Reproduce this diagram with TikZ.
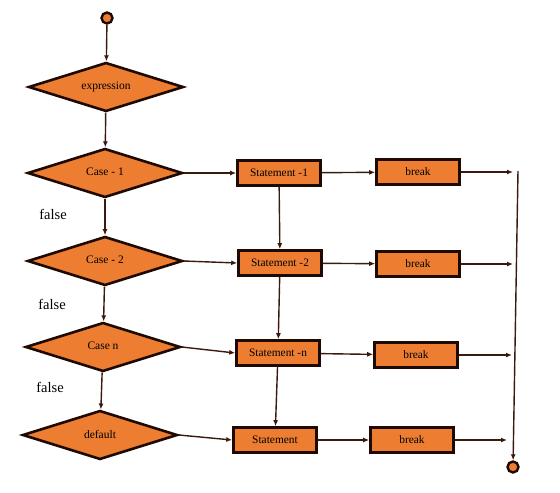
\documentclass[tikz,border=0pt]{standalone}
\usepackage{fontspec}
\setmainfont{Liberation Serif}
\newfontfamily\diagfont{Liberation Serif}
\usetikzlibrary{shapes.geometric,arrows.meta}
\definecolor{boxfill}{HTML}{ED7D31}
\definecolor{boxline}{HTML}{1E0A02}
\definecolor{conn}{HTML}{3A1A0C}
\begin{document}
\begin{tikzpicture}[x=1pt,y=-1pt,
  dec/.style={shape=diamond, aspect=3.2, inner sep=0pt, minimum width=155pt, minimum height=49pt,
    fill=boxfill, draw=boxline, line width=2.6pt, font=\diagfont\fontsize{11.5}{12}\selectfont},
  stmt/.style={rectangle, inner sep=0pt, minimum width=83pt, minimum height=25pt,
    fill=boxfill, draw=boxline, line width=2.6pt, font=\diagfont\fontsize{11.4}{12}\selectfont},
  term/.style={circle, inner sep=0pt, minimum size=11pt, fill=boxfill, draw=boxline, line width=2.4pt},
  conn/.style={draw=conn, line width=1.4pt, -{Latex[length=6pt,width=5pt]}},
  lbl/.style={font=\diagfont\fontsize{14.5}{15}\selectfont, inner sep=0pt}]
\useasboundingbox (0,0) rectangle (560,493);
% terminals
\node[term] (start) at (107,18) {};
\node[term] (stop) at (513,467) {};
% decisions
\node[dec] (expr) at (106,87) {\raisebox{2pt}{expression}};
\node[dec] (c1) at (105,173) {\raisebox{2pt}{Case - 1}};
\node[dec] (c2) at (105,261) {\raisebox{2pt}{Case - 2}};
\node[dec] (cn) at (103,347) {\raisebox{2pt}{Case n}};
\node[dec] (cd) at (100,435) {\raisebox{2pt}{default}};
% statements
\node[stmt] (s1) at (279,173) {Statement -1};
\node[stmt] (s2) at (280,263) {Statement -2};
\node[stmt] (sn) at (278,353) {Statement -n};
\node[stmt] (sd) at (275,440) {Statement};
% breaks
\node[stmt] (b1) at (418,172) {break};
\node[stmt] (b2) at (418,264) {break};
\node[stmt] (bn) at (416,355) {break};
\node[stmt] (bd) at (412,440) {break};
% labels
\node[lbl] (f1) at (53,214) {false};
\node[lbl] (f2) at (52,304) {false};
\node[lbl] (f3) at (50,387) {false};
% free ends
\coordinate (e1) at (513,172);
\coordinate (e2) at (513,264);
\coordinate (en) at (512,355);
\coordinate (ed) at (507,440);
\coordinate (top) at (518,171);
% connectors
\draw[conn] (start) -- (expr);
\draw[conn] (expr) -- (c1);
\draw[conn] (c1) -- (c2);
\draw[conn] (c2) -- (cn);
\draw[conn] (cn) -- (cd);
\draw[conn] (c1.east) -- (s1.west);
\draw[conn] (c2.east) -- (s2.west);
\draw[conn] (cn.east) -- (sn.west);
\draw[conn] (cd.east) -- (sd.west);
\draw[conn] (s1) -- (s2);
\draw[conn] (s2) -- (sn);
\draw[conn] (sn) -- (sd);
\draw[conn] (s1) -- (b1);
\draw[conn] (s2) -- (b2);
\draw[conn] (sn) -- (bn);
\draw[conn] (sd) -- (bd);
\draw[conn] (b1) -- (e1);
\draw[conn] (b2) -- (e2);
\draw[conn] (bn) -- (en);
\draw[conn] (bd) -- (ed);
\draw[conn] (top) -- (stop);
\end{tikzpicture}
\end{document}
